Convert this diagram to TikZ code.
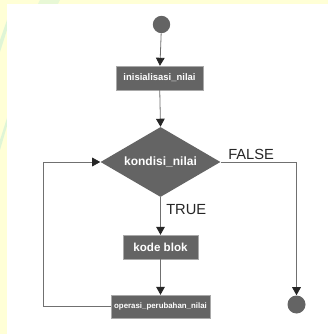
\documentclass[tikz,border=0pt]{standalone}
\usepackage{fontspec}
\setmainfont{Liberation Sans}
\usetikzlibrary{shapes.geometric,arrows.meta}
\definecolor{boxgray}{HTML}{646464}
\definecolor{linegray}{HTML}{707070}
\definecolor{bgyellow}{HTML}{FFFFD6}
\definecolor{streak}{HTML}{D2F2D6}
\tikzset{
  blockbox/.style={rectangle, fill=boxgray, draw=linegray!60, line width=0.3pt, text=white, font=\bfseries, inner sep=0pt, anchor=center},
  flowline/.style={draw=linegray, line width=0.6pt},
  flowarrow/.style={flowline, -{Triangle[length=6pt,width=6.5pt,fill=black!85,color=black!85]}},
  terminal/.style={circle, fill=boxgray, inner sep=0pt},
  lbl/.style={font=\fontsize{11}{12}\selectfont, text=black!85, inner sep=0pt}
}
\begin{document}
\begin{tikzpicture}[x=0.75pt,y=-0.75pt]
\useasboundingbox (0,0) rectangle (328,334);
\fill[bgyellow] (0,0) rectangle (328,334);
\fill[streak, opacity=0.7] (0,40) -- (7,20) -- (7,30) -- (0,52) -- cycle;
\fill[streak, opacity=0.7] (0,140) -- (7,118) -- (7,126) -- (0,150) -- cycle;
\fill[streak, opacity=0.5] (40,0) -- (60,0) -- (58,4) -- (38,4) -- cycle;
\fill[white] (7,4) rectangle (328,334);

\node[terminal, minimum size=13pt] (start) at (161.5,24.5) {};
\node[blockbox, minimum width=65.25pt, minimum height=18pt, font=\bfseries\fontsize{7.1}{8}\selectfont] (init) at (159.5,78) {inisialisasi\_nilai};
\node[diamond, fill=boxgray, inner sep=0pt, aspect=1.714, minimum width=90pt, minimum height=52.5pt, text=white, font=\bfseries\fontsize{9}{10}\selectfont] (cond) at (160.5,162) {kondisi\_nilai};
\node[blockbox, minimum width=56.25pt, minimum height=18pt, font=\bfseries\fontsize{8.7}{10}\selectfont] (kode) at (160.5,247) {kode blok};
\node[blockbox, minimum width=74.25pt, minimum height=17.25pt, font=\bfseries\fontsize{5.9}{7}\selectfont] (ops) at (160.5,306.5) {operasi\_perubahan\_nilai};
\node[terminal, minimum size=13.5pt] (end) at (296.5,304.5) {};

\coordinate (fr) at (296.5,162);
\coordinate (lb) at (43,306.5);
\coordinate (lt) at (43,162);

\draw[flowarrow] (start) -- (init);
\draw[flowarrow] (init) -- (cond.north);
\draw[flowarrow] (cond.south) -- (kode);
\draw[flowarrow] (kode) -- (ops);
\draw[flowarrow] (cond.east) -- (fr) -- (end);
\draw[flowarrow] (ops.west) -- (lb) -- (lt) -- (cond.west);

\node[lbl, anchor=west] (false) at (228,154) {FALSE};
\node[lbl, anchor=west] (true) at (166,210) {TRUE};
\end{tikzpicture}
\end{document}
